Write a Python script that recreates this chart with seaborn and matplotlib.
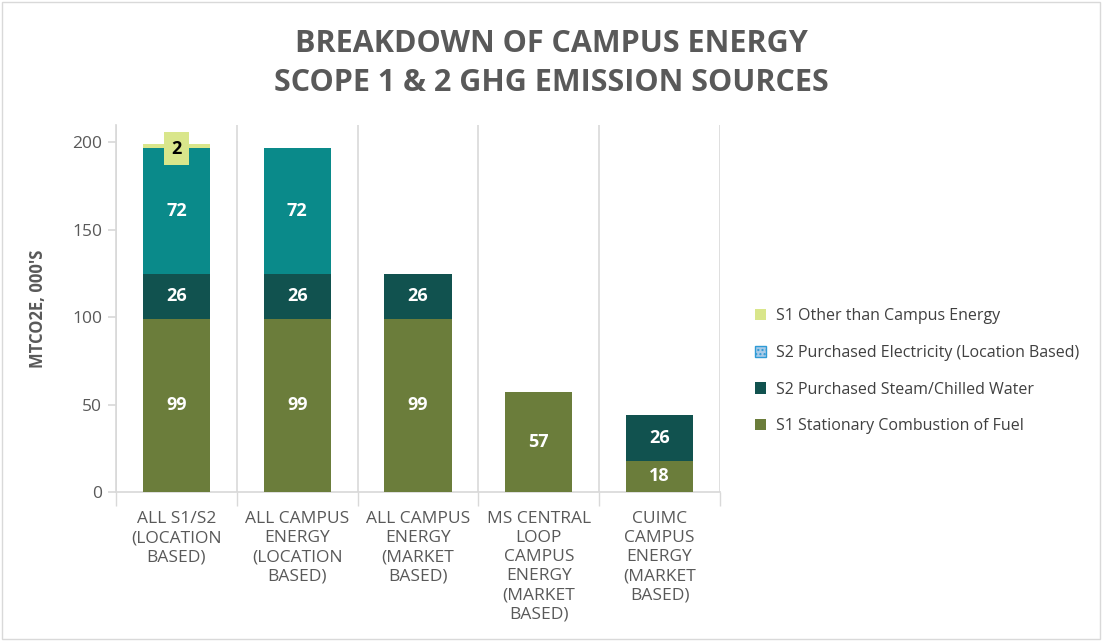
import matplotlib
matplotlib.use("Agg")
import matplotlib.pyplot as plt
from matplotlib.patches import Patch, Rectangle
import seaborn as sns
import numpy as np
import pandas as pd

categories = ["ALL S1/S2\n(LOCATION\nBASED)",
              "ALL CAMPUS\nENERGY\n(LOCATION\nBASED)",
              "ALL CAMPUS\nENERGY\n(MARKET\nBASED)",
              "MS CENTRAL\nLOOP\nCAMPUS\nENERGY\n(MARKET\nBASED)",
              "CUIMC\nCAMPUS\nENERGY\n(MARKET\nBASED)"]

# stacked series, bottom to top
s1_fuel = [99, 99, 99, 57, 18]
s2_steam = [26, 26, 26, 0, 26]
s2_elec = [72, 72, 0, 0, 0]
s1_other = [2, 0, 0, 0, 0]

series_names = ["S1 Stationary Combustion of Fuel",
                "S2 Purchased Steam/Chilled Water",
                "S2 Purchased Electricity (Location Based)",
                "S1 Other than Campus Energy"]
colors = ["#6b7d3b", "#11524f", "#0a8a8a", "#d9e68b"]

sns.set_theme(style="white")
plt.rcParams['font.family'] = ['Open Sans', 'DejaVu Sans']

fig = plt.figure(figsize=(11.02, 6.41), dpi=100)
ax = fig.add_axes([0.1053, 0.2325, 0.548, 0.5725])

layers = [s1_fuel, s2_steam, s2_elec, s1_other]
cum = np.cumsum(np.array(layers), axis=0)

# draw tallest cumulative first so smaller stacks sit on top
for i in range(len(layers) - 1, -1, -1):
    df = pd.DataFrame({"cat": categories, "val": cum[i]})
    sns.barplot(data=df, x="cat", y="val", color=colors[i], width=0.555,
                saturation=1, ax=ax, zorder=3, linewidth=0, edgecolor="none")

# value labels
for i, layer in enumerate(layers):
    for j, v in enumerate(layer):
        if v == 0:
            continue
        bottom = cum[i][j] - v
        if i == 3:
            ax.text(j, cum[i][j] - 2.5, str(v), ha="center", va="center",
                    fontsize=13, fontweight="bold", color="black", zorder=5,
                    bbox=dict(boxstyle="square,pad=0.4", fc="#d9e68b", ec="none"))
        else:
            ax.text(j, bottom + v / 2, str(v), ha="center", va="center",
                    fontsize=13, fontweight="bold", color="white", zorder=5)

ax.set_ylim(0, 210)
ax.set_xlim(-0.5, 4.5)
ax.set_yticks([0, 50, 100, 150, 200])
ax.set_xlabel("")
ax.set_ylabel("MTCO2E, 000'S", fontsize=12, fontweight="bold", color="#595959", labelpad=18)

ax.set_xticks(np.arange(-0.5, 5, 1), minor=True)
ax.tick_params(axis="x", which="major", length=0, pad=14, labelsize=12.5, labelcolor="#595959")
ax.tick_params(axis="x", which="minor", length=10, color="#d9d9d9", width=1, bottom=True)
ax.tick_params(axis="y", which="major", length=6, color="#d9d9d9", left=True,
               labelsize=12.5, labelcolor="#595959", pad=4)
for lbl in ax.get_xticklabels():
    lbl.set_linespacing(1.25)
ax.grid(which="minor", axis="x", color="#d9d9d9", linewidth=1.2, zorder=0)
ax.grid(which="major", axis="y", visible=False)

for s in ["top", "right"]:
    ax.spines[s].set_visible(False)
for s in ["left", "bottom"]:
    ax.spines[s].set_color("#d9d9d9")

fig.text(0.5, 0.932, "BREAKDOWN OF CAMPUS ENERGY", ha="center", va="center",
         fontsize=22, fontweight="bold", color="#595959")
fig.text(0.5, 0.87, "SCOPE 1 & 2 GHG EMISSION SOURCES", ha="center", va="center",
         fontsize=22, fontweight="bold", color="#595959")

handles = [Patch(facecolor=colors[3], edgecolor="none"),
           Patch(facecolor="#a9cbe8", edgecolor="#2f9bd6", hatch="...."),
           Patch(facecolor=colors[1], edgecolor="none"),
           Patch(facecolor=colors[0], edgecolor="none")]
labels = [series_names[3], series_names[2], series_names[1], series_names[0]]
fig.legend(handles, labels, loc="center left", bbox_to_anchor=(0.672, 0.421),
           frameon=False, fontsize=11.5, labelcolor="#404040", handlelength=0.7,
           handleheight=0.7, handletextpad=0.6, labelspacing=1.3)

fig.patches.append(Rectangle((0.002, 0.003), 0.996, 0.994, transform=fig.transFigure,
                             fill=False, edgecolor="#d9d9d9", linewidth=1))

fig.savefig("out.png", dpi=100)
